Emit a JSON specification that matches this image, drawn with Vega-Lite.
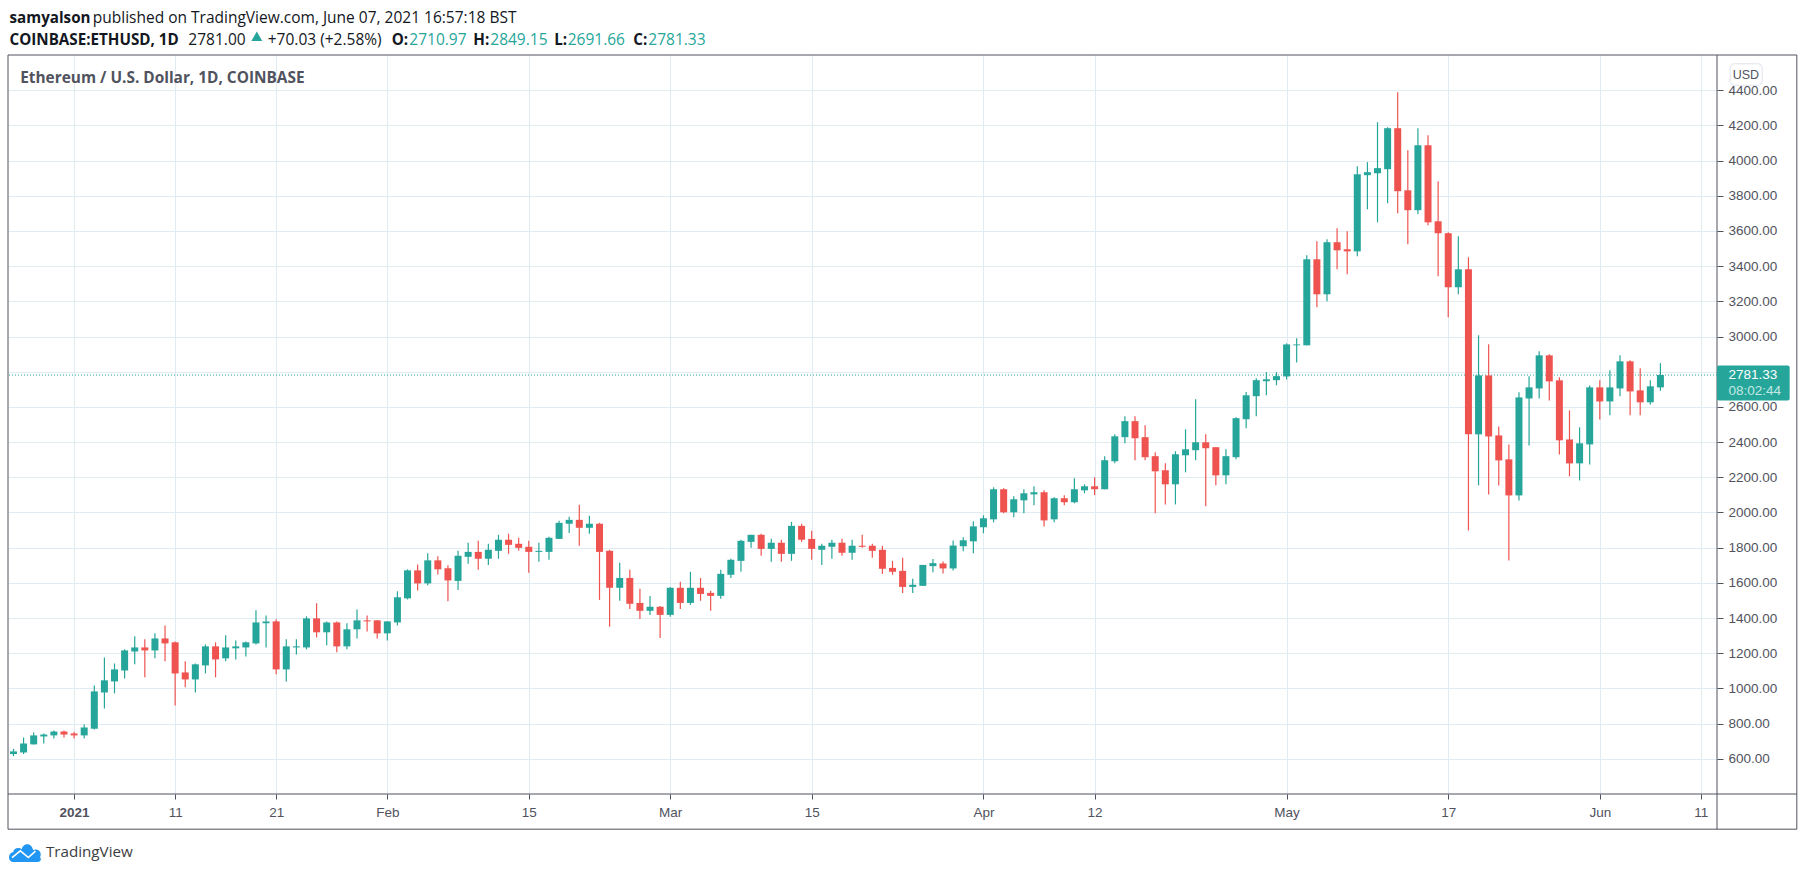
{
"$schema":"https://vega.github.io/schema/vega-lite/v6.json",
"autosize":{"type":"none"},
"padding":{"left":8,"top":55,"right":88,"bottom":82},
"width":1709,"height":739,
"background":"#ffffff",
"config":{"view":{"stroke":null},"text":{"font":"Open Sans"},"scale":{"continuousPadding":0}},
"datasets":{
"candles":[
{"date":"2020-12-26","open":627,"high":657,"low":615,"close":642},
{"date":"2020-12-27","open":636,"high":721,"low":627,"close":687},
{"date":"2020-12-28","open":682,"high":750,"low":682,"close":733},
{"date":"2020-12-29","open":727,"high":744,"low":687,"close":738},
{"date":"2020-12-30","open":733,"high":761,"low":716,"close":755},
{"date":"2020-12-31","open":755,"high":761,"low":721,"close":738},
{"date":"2021-01-01","open":744,"high":754,"low":716,"close":733},
{"date":"2021-01-02","open":733,"high":795,"low":716,"close":778},
{"date":"2021-01-03","open":771,"high":1017,"low":767,"close":983},
{"date":"2021-01-04","open":977,"high":1176,"low":886,"close":1046},
{"date":"2021-01-05","open":1040,"high":1142,"low":972,"close":1108},
{"date":"2021-01-06","open":1102,"high":1222,"low":1057,"close":1216},
{"date":"2021-01-07","open":1210,"high":1296,"low":1137,"close":1233},
{"date":"2021-01-08","open":1233,"high":1279,"low":1063,"close":1216},
{"date":"2021-01-09","open":1216,"high":1313,"low":1171,"close":1284},
{"date":"2021-01-10","open":1284,"high":1358,"low":1154,"close":1256},
{"date":"2021-01-11","open":1262,"high":1267,"low":903,"close":1085},
{"date":"2021-01-12","open":1091,"high":1154,"low":1006,"close":1051},
{"date":"2021-01-13","open":1051,"high":1142,"low":977,"close":1137},
{"date":"2021-01-14","open":1131,"high":1250,"low":1085,"close":1239},
{"date":"2021-01-15","open":1239,"high":1262,"low":1063,"close":1165},
{"date":"2021-01-16","open":1171,"high":1302,"low":1154,"close":1233},
{"date":"2021-01-17","open":1228,"high":1273,"low":1165,"close":1239},
{"date":"2021-01-18","open":1233,"high":1267,"low":1182,"close":1262},
{"date":"2021-01-19","open":1256,"high":1444,"low":1250,"close":1375},
{"date":"2021-01-20","open":1370,"high":1415,"low":1233,"close":1381},
{"date":"2021-01-21","open":1381,"high":1393,"low":1080,"close":1108},
{"date":"2021-01-22","open":1108,"high":1279,"low":1040,"close":1239},
{"date":"2021-01-23","open":1233,"high":1279,"low":1193,"close":1239},
{"date":"2021-01-24","open":1233,"high":1410,"low":1222,"close":1398},
{"date":"2021-01-25","open":1398,"high":1484,"low":1290,"close":1319},
{"date":"2021-01-26","open":1319,"high":1381,"low":1245,"close":1375},
{"date":"2021-01-27","open":1375,"high":1381,"low":1205,"close":1239},
{"date":"2021-01-28","open":1239,"high":1370,"low":1222,"close":1336},
{"date":"2021-01-29","open":1336,"high":1449,"low":1284,"close":1387},
{"date":"2021-01-30","open":1387,"high":1415,"low":1324,"close":1381},
{"date":"2021-01-31","open":1387,"high":1387,"low":1284,"close":1313},
{"date":"2021-02-01","open":1313,"high":1381,"low":1273,"close":1381},
{"date":"2021-02-02","open":1375,"high":1552,"low":1358,"close":1518},
{"date":"2021-02-03","open":1512,"high":1677,"low":1506,"close":1671},
{"date":"2021-02-04","open":1671,"high":1705,"low":1557,"close":1597},
{"date":"2021-02-05","open":1597,"high":1768,"low":1586,"close":1728},
{"date":"2021-02-06","open":1728,"high":1751,"low":1648,"close":1677},
{"date":"2021-02-07","open":1683,"high":1700,"low":1495,"close":1614},
{"date":"2021-02-08","open":1611,"high":1782,"low":1560,"close":1754},
{"date":"2021-02-09","open":1748,"high":1828,"low":1708,"close":1776},
{"date":"2021-02-10","open":1776,"high":1839,"low":1674,"close":1737},
{"date":"2021-02-11","open":1737,"high":1822,"low":1702,"close":1788},
{"date":"2021-02-12","open":1782,"high":1873,"low":1737,"close":1845},
{"date":"2021-02-13","open":1845,"high":1879,"low":1765,"close":1816},
{"date":"2021-02-14","open":1822,"high":1856,"low":1782,"close":1799},
{"date":"2021-02-15","open":1805,"high":1839,"low":1657,"close":1776},
{"date":"2021-02-16","open":1776,"high":1828,"low":1720,"close":1782},
{"date":"2021-02-17","open":1776,"high":1862,"low":1731,"close":1856},
{"date":"2021-02-18","open":1850,"high":1953,"low":1850,"close":1941},
{"date":"2021-02-19","open":1936,"high":1975,"low":1884,"close":1958},
{"date":"2021-02-20","open":1958,"high":2044,"low":1811,"close":1913},
{"date":"2021-02-21","open":1913,"high":1981,"low":1879,"close":1936},
{"date":"2021-02-22","open":1936,"high":1941,"low":1503,"close":1776},
{"date":"2021-02-23","open":1782,"high":1788,"low":1350,"close":1572},
{"date":"2021-02-24","open":1572,"high":1714,"low":1498,"close":1628},
{"date":"2021-02-25","open":1628,"high":1674,"low":1452,"close":1481},
{"date":"2021-02-26","open":1486,"high":1566,"low":1395,"close":1441},
{"date":"2021-02-27","open":1441,"high":1526,"low":1418,"close":1464},
{"date":"2021-02-28","open":1464,"high":1469,"low":1287,"close":1418},
{"date":"2021-03-01","open":1418,"high":1577,"low":1407,"close":1572},
{"date":"2021-03-02","open":1572,"high":1606,"low":1452,"close":1486},
{"date":"2021-03-03","open":1486,"high":1663,"low":1475,"close":1572},
{"date":"2021-03-04","open":1572,"high":1628,"low":1498,"close":1537},
{"date":"2021-03-05","open":1543,"high":1555,"low":1441,"close":1526},
{"date":"2021-03-06","open":1526,"high":1674,"low":1509,"close":1651},
{"date":"2021-03-07","open":1646,"high":1737,"low":1628,"close":1731},
{"date":"2021-03-08","open":1725,"high":1845,"low":1663,"close":1839},
{"date":"2021-03-09","open":1833,"high":1873,"low":1799,"close":1873},
{"date":"2021-03-10","open":1873,"high":1879,"low":1754,"close":1793},
{"date":"2021-03-11","open":1793,"high":1850,"low":1720,"close":1828},
{"date":"2021-03-12","open":1828,"high":1845,"low":1720,"close":1765},
{"date":"2021-03-13","open":1765,"high":1947,"low":1725,"close":1924},
{"date":"2021-03-14","open":1924,"high":1936,"low":1833,"close":1845},
{"date":"2021-03-15","open":1850,"high":1896,"low":1731,"close":1793},
{"date":"2021-03-16","open":1788,"high":1822,"low":1702,"close":1811},
{"date":"2021-03-17","open":1805,"high":1845,"low":1737,"close":1828},
{"date":"2021-03-18","open":1828,"high":1850,"low":1754,"close":1771},
{"date":"2021-03-19","open":1771,"high":1845,"low":1731,"close":1811},
{"date":"2021-03-20","open":1811,"high":1873,"low":1799,"close":1805},
{"date":"2021-03-21","open":1811,"high":1822,"low":1742,"close":1782},
{"date":"2021-03-22","open":1788,"high":1811,"low":1651,"close":1680},
{"date":"2021-03-23","open":1685,"high":1725,"low":1646,"close":1663},
{"date":"2021-03-24","open":1668,"high":1742,"low":1543,"close":1577},
{"date":"2021-03-25","open":1577,"high":1623,"low":1543,"close":1589},
{"date":"2021-03-26","open":1583,"high":1702,"low":1583,"close":1702},
{"date":"2021-03-27","open":1695,"high":1735,"low":1660,"close":1712},
{"date":"2021-03-28","open":1710,"high":1721,"low":1653,"close":1682},
{"date":"2021-03-29","open":1682,"high":1841,"low":1670,"close":1812},
{"date":"2021-03-30","open":1808,"high":1859,"low":1779,"close":1842},
{"date":"2021-03-31","open":1836,"high":1950,"low":1768,"close":1921},
{"date":"2021-04-01","open":1916,"high":1984,"low":1882,"close":1967},
{"date":"2021-04-02","open":1961,"high":2143,"low":1944,"close":2132},
{"date":"2021-04-03","open":2132,"high":2137,"low":1995,"close":2001},
{"date":"2021-04-04","open":2001,"high":2092,"low":1973,"close":2075},
{"date":"2021-04-05","open":2069,"high":2132,"low":1995,"close":2109},
{"date":"2021-04-06","open":2103,"high":2149,"low":2041,"close":2115},
{"date":"2021-04-07","open":2115,"high":2126,"low":1921,"close":1955},
{"date":"2021-04-08","open":1961,"high":2086,"low":1944,"close":2081},
{"date":"2021-04-09","open":2081,"high":2098,"low":2041,"close":2058},
{"date":"2021-04-10","open":2058,"high":2194,"low":2052,"close":2132},
{"date":"2021-04-11","open":2126,"high":2160,"low":2109,"close":2149},
{"date":"2021-04-12","open":2149,"high":2200,"low":2098,"close":2132},
{"date":"2021-04-13","open":2132,"high":2320,"low":2132,"close":2297},
{"date":"2021-04-14","open":2291,"high":2445,"low":2280,"close":2433},
{"date":"2021-04-15","open":2428,"high":2547,"low":2393,"close":2519},
{"date":"2021-04-16","open":2519,"high":2547,"low":2297,"close":2422},
{"date":"2021-04-17","open":2428,"high":2496,"low":2297,"close":2314},
{"date":"2021-04-18","open":2320,"high":2342,"low":1995,"close":2234},
{"date":"2021-04-19","open":2240,"high":2280,"low":2046,"close":2160},
{"date":"2021-04-20","open":2160,"high":2348,"low":2046,"close":2331},
{"date":"2021-04-21","open":2325,"high":2473,"low":2228,"close":2359},
{"date":"2021-04-22","open":2354,"high":2644,"low":2297,"close":2399},
{"date":"2021-04-23","open":2399,"high":2445,"low":2035,"close":2365},
{"date":"2021-04-24","open":2371,"high":2371,"low":2155,"close":2211},
{"date":"2021-04-25","open":2211,"high":2359,"low":2160,"close":2320},
{"date":"2021-04-26","open":2314,"high":2541,"low":2302,"close":2536},
{"date":"2021-04-27","open":2530,"high":2684,"low":2479,"close":2666},
{"date":"2021-04-28","open":2661,"high":2763,"low":2547,"close":2752},
{"date":"2021-04-29","open":2746,"high":2797,"low":2666,"close":2757},
{"date":"2021-04-30","open":2752,"high":2797,"low":2723,"close":2775},
{"date":"2021-05-01","open":2773,"high":2961,"low":2756,"close":2955},
{"date":"2021-05-02","open":2950,"high":2990,"low":2853,"close":2955},
{"date":"2021-05-03","open":2950,"high":3462,"low":2950,"close":3439},
{"date":"2021-05-04","open":3439,"high":3541,"low":3166,"close":3240},
{"date":"2021-05-05","open":3240,"high":3553,"low":3200,"close":3536},
{"date":"2021-05-06","open":3536,"high":3615,"low":3382,"close":3490},
{"date":"2021-05-07","open":3496,"high":3598,"low":3354,"close":3484},
{"date":"2021-05-08","open":3484,"high":3968,"low":3456,"close":3922},
{"date":"2021-05-09","open":3917,"high":3991,"low":3723,"close":3934},
{"date":"2021-05-10","open":3928,"high":4218,"low":3649,"close":3957},
{"date":"2021-05-11","open":3951,"high":4190,"low":3757,"close":4184},
{"date":"2021-05-12","open":4184,"high":4389,"low":3701,"close":3826},
{"date":"2021-05-13","open":3831,"high":4059,"low":3524,"close":3718},
{"date":"2021-05-14","open":3718,"high":4184,"low":3695,"close":4087},
{"date":"2021-05-15","open":4087,"high":4144,"low":3632,"close":3649},
{"date":"2021-05-16","open":3655,"high":3883,"low":3342,"close":3587},
{"date":"2021-05-17","open":3587,"high":3593,"low":3109,"close":3280},
{"date":"2021-05-18","open":3280,"high":3570,"low":3240,"close":3382},
{"date":"2021-05-19","open":3382,"high":3450,"low":1898,"close":2444},
{"date":"2021-05-20","open":2444,"high":3007,"low":2154,"close":2779},
{"date":"2021-05-21","open":2779,"high":2956,"low":2102,"close":2432},
{"date":"2021-05-22","open":2438,"high":2489,"low":2154,"close":2296},
{"date":"2021-05-23","open":2302,"high":2387,"low":1727,"close":2097},
{"date":"2021-05-24","open":2097,"high":2683,"low":2068,"close":2654},
{"date":"2021-05-25","open":2648,"high":2774,"low":2381,"close":2711},
{"date":"2021-05-26","open":2705,"high":2916,"low":2648,"close":2893},
{"date":"2021-05-27","open":2893,"high":2899,"low":2637,"close":2745},
{"date":"2021-05-28","open":2751,"high":2768,"low":2330,"close":2410},
{"date":"2021-05-29","open":2415,"high":2580,"low":2205,"close":2279},
{"date":"2021-05-30","open":2279,"high":2484,"low":2182,"close":2393},
{"date":"2021-05-31","open":2387,"high":2722,"low":2273,"close":2711},
{"date":"2021-06-01","open":2711,"high":2751,"low":2529,"close":2631},
{"date":"2021-06-02","open":2631,"high":2808,"low":2552,"close":2711},
{"date":"2021-06-03","open":2705,"high":2893,"low":2660,"close":2859},
{"date":"2021-06-04","open":2859,"high":2865,"low":2552,"close":2688},
{"date":"2021-06-05","open":2694,"high":2819,"low":2552,"close":2626},
{"date":"2021-06-06","open":2626,"high":2751,"low":2614,"close":2717},
{"date":"2021-06-07","open":2710.97,"high":2849.15,"low":2691.66,"close":2781.33}
],
"frame":[{"date":"2020-12-25T11:00:00Z","date2":"2021-06-20T12:00:00Z","edge":"2021-06-12T14:24:00Z","top":4600,"base":400,"bottom":200}],
"last":[{"price":2781.33,"date":"2021-06-12T14:24:00Z","date2":"2021-06-19T19:00:00Z","top":2835,"bottom":2637}],
"usdBox":[{"date":"2021-06-13T21:36:00Z","date2":"2021-06-17T01:40:00Z","top":4550,"bottom":4428}],
"boldText":[
{"date":"2020-12-25T14:38:00Z","price":4812,"label":"samyalson"},
{"date":"2020-12-25T14:38:00Z","price":4687,"label":"COINBASE:ETHUSD, 1D"},
{"date":"2021-02-01T10:30:00Z","price":4687,"label":"O:"},
{"date":"2021-02-09T12:14:00Z","price":4687,"label":"H:"},
{"date":"2021-02-17T12:28:00Z","price":4687,"label":"L:"},
{"date":"2021-02-25T08:10:00Z","price":4687,"label":"C:"}
],
"plainText":[
{"date":"2021-01-02T20:24:00Z","price":4812,"label":"published on TradingView.com, June 07, 2021 16:57:18 BST"},
{"date":"2021-01-12T07:26:00Z","price":4687,"label":"2781.00"},
{"date":"2021-01-20T04:00:00Z","price":4687,"label":"+70.03 (+2.58%)"}
],
"greenText":[
{"date":"2021-02-03T04:19:00Z","price":4687,"label":"2710.97"},
{"date":"2021-02-11T04:34:00Z","price":4687,"label":"2849.15"},
{"date":"2021-02-18T20:24:00Z","price":4687,"label":"2691.66"},
{"date":"2021-02-26T19:55:00Z","price":4687,"label":"2781.33"}
],
"arrow":[{"date":"2021-01-19T02:00:00Z","price":4706}],
"chartTitle":[{"date":"2020-12-26T16:00:00Z","price":4471,"label":"Ethereum / U.S. Dollar, 1D, COINBASE"}],
"usdText":[{"date":"2021-06-15T11:00:00Z","price":4488,"label":"USD"}],
"tagPrice":[{"date":"2021-06-13T17:30:00Z","price":2782,"label":"2781.33"}],
"tagTime":[{"date":"2021-06-13T17:30:00Z","price":2688,"label":"08:02:44"}],
"logo":[{"date":"2020-12-27T03:00:00Z","price":68}],
"logoText":[{"date":"2020-12-29T05:00:00Z","price":68,"label":"TradingView"}]
},
"layer":[
{"data":{"name":"frame"},
 "mark":{"type":"rect","fill":"#ffffff","fillOpacity":0,"stroke":"#50535e","strokeWidth":1},
 "encoding":{
  "x":{"field":"date","type":"temporal","title":null,
   "scale":{"type":"utc","domain":["2020-12-25T11:00:00Z","2021-06-12T14:24:00Z"]},
   "axis":{"values":["2021-01-01","2021-01-11","2021-01-21","2021-02-01","2021-02-15","2021-03-01","2021-03-15","2021-04-01","2021-04-12","2021-05-01","2021-05-17","2021-06-01","2021-06-11"],
    "labelExpr":"utcdate(datum.value)==1 ? (utcmonth(datum.value)==0 ? '2021' : utcFormat(datum.value,'%b')) : utcFormat(datum.value,'%-d')",
    "labelFontWeight":{"condition":{"test":"utcdate(datum.value)==1 && utcmonth(datum.value)==0","value":"bold"},"value":"normal"},
    "labelFont":"Liberation Sans","labelFontSize":13.5,"labelColor":"#50535e","labelPadding":6,"labelOverlap":false,"labelFlush":false,"tickCount":30,
    "domain":false,"tickColor":"#50535e","tickSize":5,"grid":true,"gridColor":"#e1ecf2","gridWidth":1}},
  "x2":{"field":"date2"},
  "y":{"field":"top","type":"quantitative","title":null,
   "scale":{"domain":[400,4600],"nice":false,"zero":false},
   "axis":{"orient":"right","values":[600,800,1000,1200,1400,1600,1800,2000,2200,2400,2600,2800,3000,3200,3400,3600,3800,4000,4200,4400],"format":".2f","tickCount":30,
    "labelFont":"Liberation Sans","labelFontSize":13.5,"labelColor":"#50535e","labelPadding":5,"labelOverlap":false,"labelFlush":false,
    "domain":false,"tickColor":"#50535e","tickSize":6,"grid":true,"gridColor":"#e1ecf2","gridWidth":1}},
  "y2":{"field":"bottom"}}},
{"data":{"name":"frame"},
 "mark":{"type":"rule","color":"#50535e","strokeWidth":1},
 "encoding":{"x":{"field":"edge","type":"temporal"},"y":{"field":"top","type":"quantitative"},"y2":{"field":"bottom"}}},
{"data":{"name":"frame"},
 "mark":{"type":"rule","color":"#50535e","strokeWidth":1},
 "encoding":{"x":{"field":"date","type":"temporal"},"x2":{"field":"date2"},"y":{"field":"base","type":"quantitative"}}},
{"data":{"name":"last"},
 "mark":{"type":"rule","color":"#26a69a","strokeWidth":1,"strokeDash":[1,2]},
 "encoding":{"y":{"field":"price","type":"quantitative"}}},
{"data":{"name":"candles"},
 "mark":{"type":"rule","strokeWidth":1.2},
 "encoding":{"x":{"field":"date","type":"temporal"},"y":{"field":"low","type":"quantitative"},"y2":{"field":"high"},
  "color":{"condition":{"test":"datum.close>=datum.open","value":"#26a69a"},"value":"#ef5350"}}},
{"data":{"name":"candles"},
 "mark":{"type":"bar","size":7,"orient":"vertical"},
 "encoding":{"x":{"field":"date","type":"temporal"},"y":{"field":"open","type":"quantitative"},"y2":{"field":"close"},
  "color":{"condition":{"test":"datum.close>=datum.open","value":"#26a69a"},"value":"#ef5350"}}},
{"data":{"name":"last"},
 "mark":{"type":"rect","fill":"#26a69a","cornerRadius":2},
 "encoding":{"x":{"field":"date","type":"temporal"},"x2":{"field":"date2"},"y":{"field":"top","type":"quantitative"},"y2":{"field":"bottom"}}},
{"data":{"name":"usdBox"},
 "mark":{"type":"rect","fill":"#ffffff","stroke":"#e0e3eb","strokeWidth":1,"cornerRadius":4},
 "encoding":{"x":{"field":"date","type":"temporal"},"x2":{"field":"date2"},"y":{"field":"top","type":"quantitative"},"y2":{"field":"bottom"}}},
{"data":{"name":"boldText"},
 "mark":{"type":"text","align":"left","baseline":"middle","font":"Open Sans","fontSize":15.2,"fontWeight":"bold","color":"#131722"},
 "encoding":{"x":{"field":"date","type":"temporal"},"y":{"field":"price","type":"quantitative"},"text":{"field":"label"}}},
{"data":{"name":"plainText"},
 "mark":{"type":"text","align":"left","baseline":"middle","font":"Open Sans","fontSize":15.5,"color":"#131722"},
 "encoding":{"x":{"field":"date","type":"temporal"},"y":{"field":"price","type":"quantitative"},"text":{"field":"label"}}},
{"data":{"name":"greenText"},
 "mark":{"type":"text","align":"left","baseline":"middle","font":"Open Sans","fontSize":15.5,"color":"#26a69a"},
 "encoding":{"x":{"field":"date","type":"temporal"},"y":{"field":"price","type":"quantitative"},"text":{"field":"label"}}},
{"data":{"name":"arrow"},
 "mark":{"type":"point","shape":"triangle-up","filled":true,"size":120,"color":"#26a69a","opacity":1},
 "encoding":{"x":{"field":"date","type":"temporal"},"y":{"field":"price","type":"quantitative"}}},
{"data":{"name":"chartTitle"},
 "mark":{"type":"text","align":"left","baseline":"middle","font":"Open Sans","fontSize":15.4,"fontWeight":"bold","color":"#50535e"},
 "encoding":{"x":{"field":"date","type":"temporal"},"y":{"field":"price","type":"quantitative"},"text":{"field":"label"}}},
{"data":{"name":"usdText"},
 "mark":{"type":"text","align":"center","baseline":"middle","font":"Liberation Sans","fontSize":12.5,"color":"#50535e"},
 "encoding":{"x":{"field":"date","type":"temporal"},"y":{"field":"price","type":"quantitative"},"text":{"field":"label"}}},
{"data":{"name":"tagPrice"},
 "mark":{"type":"text","align":"left","baseline":"middle","font":"Liberation Sans","fontSize":13.5,"color":"#ffffff"},
 "encoding":{"x":{"field":"date","type":"temporal"},"y":{"field":"price","type":"quantitative"},"text":{"field":"label"}}},
{"data":{"name":"tagTime"},
 "mark":{"type":"text","align":"left","baseline":"middle","font":"Liberation Sans","fontSize":13.5,"color":"#c4e8e4"},
 "encoding":{"x":{"field":"date","type":"temporal"},"y":{"field":"price","type":"quantitative"},"text":{"field":"label"}}},
{"data":{"name":"logo"},
 "mark":{"type":"point","filled":true,"size":1024,"color":"#2196f3","opacity":1,
  "shape":"M-0.75 0.6 C-1.05 0.6 -1.1 0.05 -0.72 -0.02 C-0.7 -0.3 -0.35 -0.35 -0.2 -0.2 C-0.1 -0.6 0.4 -0.65 0.52 -0.15 C0.85 -0.3 1.1 0 0.95 0.3 C1.1 0.5 0.9 0.6 0.75 0.6 Z"},
 "encoding":{"x":{"field":"date","type":"temporal"},"y":{"field":"price","type":"quantitative"}}},
{"data":{"name":"logo"},
 "mark":{"type":"point","filled":false,"size":1024,"stroke":"#ffffff","strokeWidth":1.6,"opacity":1,
  "shape":"M-0.8 0.32 L-0.28 -0.1 L0.22 0.32 L0.66 -0.08"},
 "encoding":{"x":{"field":"date","type":"temporal"},"y":{"field":"price","type":"quantitative"}}},
{"data":{"name":"logoText"},
 "mark":{"type":"text","align":"left","baseline":"middle","font":"Open Sans","fontSize":15.2,"color":"#3c4043"},
 "encoding":{"x":{"field":"date","type":"temporal"},"y":{"field":"price","type":"quantitative"},"text":{"field":"label"}}}
]
}
